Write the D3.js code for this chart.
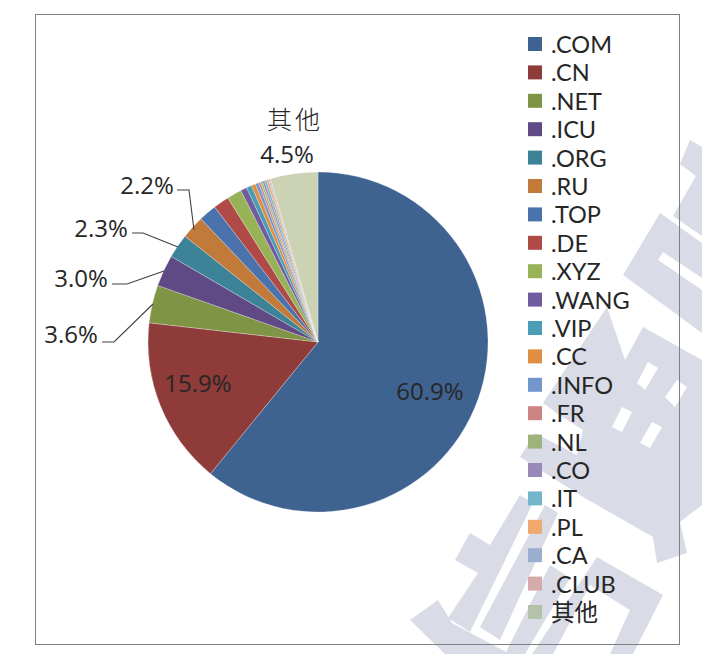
<!DOCTYPE html>
<html><head><meta charset="utf-8">
<script src="https://cdn.jsdelivr.net/npm/d3@7"></script>
<style>html,body{margin:0;padding:0;background:#fff}svg{display:block}</style>
</head><body><svg id="c" width="702" height="654"></svg>
<script>
const categories=[".COM",".CN",".NET",".ICU",".ORG",".RU",".TOP",".DE",".XYZ",".WANG",".VIP",".CC",".INFO",".FR",".NL",".CO",".IT",".PL",".CA",".CLUB","其他"];
const shares=[60.9,15.9,3.6,3.0,2.3,2.2,1.7,1.5,1.4,0.6,0.5,0.4,0.3,0.2,0.2,0.2,0.2,0.2,0.1,0.1,4.5];
const colours=["#3f6391","#8e3b39","#7f9444","#5f4a85","#3d8398","#c17a39","#4a73ad","#b04a47","#98b257","#6f5b9d","#4a9db5","#e08e42","#7297cc","#cd8583","#a3bb79","#9a88b8","#73b6ca","#f0a96e","#9aaed0","#d4abaa","#ccd3b4"];
const legendSwatches=["#3f6391","#8e3b39","#7f9444","#5f4a85","#3d8398","#c17a39","#4a73ad","#b04a47","#98b257","#6f5b9d","#4a9db5","#e08e42","#7297cc","#cd8583","#9cb47c","#9a88b8","#73b6ca","#f0a96e","#9aaed0","#d4abaa","#b3c2a8"];
const labelled=[
 {name:".COM",text:"60.9%",x:430,y:390},
 {name:".CN",text:"15.9%",x:198,y:382},
 {name:".NET",text:"3.6%",x:71,y:333,line:[[102,342],[114,342],[153,304]]},
 {name:".ICU",text:"3.0%",x:81,y:277,line:[[112,284],[127,284],[164,271]]},
 {name:".ORG",text:"2.3%",x:101,y:227,line:[[132,233],[143,233],[178,247]]},
 {name:".RU",text:"2.2%",x:147,y:184,line:[[177,190],[189,190],[194,230]]},
 {name:"其他",text:"4.5%",x:287,y:153},
];
const watermark=[
 "M690,140 L702,147 L702,236 L673,216 L696,176 L680,164 Z",
 "M660,213 L702,243 L702,333 L623,275 Z M658,260 L663,252 L702,278 L702,290 Z",
 "M607,307 L625,360 L643,327 L702,360 L702,505 L680,522 L687,553 L657,563 L653,537 L583,497 L520,457 L535,433 L577,455 L583,430 L555,412 L543,403 Z M648,362 L658,368 L645,390 L637,383 Z M677,380 L687,387 L675,407 L665,397 Z M622,407 L632,412 L622,432 L612,427 Z M652,422 L662,427 L650,448 L640,443 Z",
 "M520,495 L533,503 L470,632 L448,618 L478,573 L455,560 L470,533 L490,545 Z",
 "M545,505 L558,513 L500,640 L480,627 Z",
 "M597,557 L663,595 L633,654 L610,654 L630,610 L590,585 L553,654 L532,654 Z",
 "M550,565 L570,578 L525,654 L505,654 Z",
 "M438,600 L452,623 L510,654 L445,654 L410,620 Z"
];
const svg=d3.select("#c");
const wm=svg.append("g").attr("fill","#d9dce6");
wm.selectAll("path").data(watermark).join("path").attr("d",d=>d).attr("fill-rule","evenodd");
svg.append("rect").attr("x",35.5).attr("y",14.5).attr("width",644).attr("height",630).attr("fill","none").attr("stroke","#808080").attr("stroke-width",1);

const cx=318,cy=342,r=170;
const pie=d3.pie().sort(null).value(d=>d.v);
const arcs=pie(categories.map((c,i)=>({c,v:shares[i],col:colours[i]})));
const arc=d3.arc().innerRadius(0).outerRadius(r);
svg.append("g").attr("transform",`translate(${cx},${cy})`).selectAll("path").data(arcs).join("path")
 .attr("d",arc).attr("fill",d=>d.data.col).attr("stroke","#fff").attr("stroke-opacity",.45).attr("stroke-width",.6);

const font="'Open Sans','Noto Sans CJK SC',sans-serif";
const line=d3.line();
svg.append("g").selectAll("path").data(labelled.filter(d=>d.line)).join("path")
 .attr("d",d=>line(d.line)).attr("fill","none").attr("stroke","#404040").attr("stroke-width",1.1);
svg.append("g").selectAll("text").data(labelled).join("text")
 .attr("x",d=>d.x).attr("y",d=>d.y).attr("text-anchor","middle").attr("dominant-baseline","central")
 .attr("font-family",font).attr("font-size",24).attr("fill","#262626").text(d=>d.text);
svg.append("text").attr("x",295).attr("y",118).attr("text-anchor","middle").attr("dominant-baseline","central")
 .attr("font-family","'Noto Sans CJK SC'").attr("font-weight",300).attr("font-size",25).attr("fill","#262626").attr("letter-spacing",3).text(categories[20]);

const y=d3.scalePoint().domain(categories).range([44,612]);
const lg=svg.append("g").selectAll("g").data(categories).join("g").attr("transform",d=>`translate(528,${y(d)})`);
lg.append("rect").attr("x",0).attr("y",-7).attr("width",14).attr("height",14).attr("fill",(d,i)=>legendSwatches[i]);
lg.append("text").attr("x",23).attr("y",0).attr("dominant-baseline","central").attr("font-family","Lato,'Noto Sans CJK SC',sans-serif").attr("font-size",23.5).attr("fill","#262626").text(d=>d);
</script></body></html>
